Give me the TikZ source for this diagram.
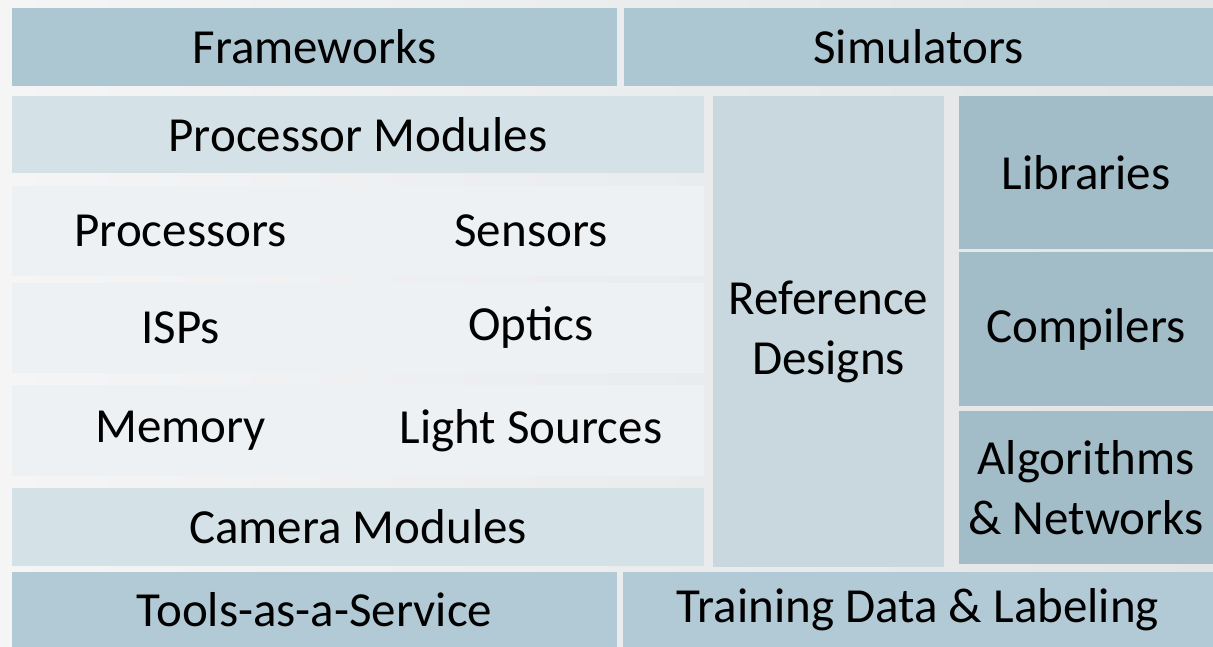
\documentclass[tikz,border=0pt]{standalone}
\usepackage{fontspec}
\setmainfont{Carlito}

\definecolor{bgleft}{HTML}{F5F5F6}
\definecolor{bgright}{HTML}{E2E4E6}
\definecolor{tierdark}{HTML}{ACC6D2}
\definecolor{tierside}{HTML}{A2BCC8}
\definecolor{tiermid}{HTML}{D4E1E7}
\definecolor{tierlight}{HTML}{EDF1F4}
\definecolor{tierref}{HTML}{C9D8DF}

\begin{document}
\begin{tikzpicture}[x=1pt, y=-1pt,
  every node/.style={rectangle, inner sep=0pt, align=center, text=black,
    font=\fontsize{49}{60}\selectfont},
  darkbox/.style={fill=tierdark},
  sidebox/.style={fill=tierside, minimum width=254pt},
  midbox/.style={fill=tiermid, minimum width=692pt},
  lightbox/.style={fill=tierlight, minimum height=90pt},
  refbox/.style={fill=tierref}]

\useasboundingbox (0,0) rectangle (1213,647);
\shade[left color=bgleft, right color=bgright] (0,0) rectangle (1213,647);

% top row
\node[darkbox, minimum width=605pt, minimum height=78pt] (fw) at (314.5,47) {Frameworks};
\node[darkbox, minimum width=589pt, minimum height=78pt] (sim) at (918.5,47) {Simulators};

% hardware stack
\node[midbox, minimum height=77pt] (pm) at (358,134.5) {Processor Modules};
\node[lightbox, minimum width=337pt] (proc) at (180.5,231) {Processors};
\node[lightbox, minimum width=346pt] (sens) at (531,231) {Sensors};
\node[lightbox, minimum width=337pt] (isp) at (180.5,328) {ISPs};
\node[lightbox, minimum width=346pt] (opt) at (531,328) {Optics};
\node[lightbox, minimum width=337pt, minimum height=91pt] (mem) at (180.5,430.5) {Memory};
\node[lightbox, minimum width=346pt, minimum height=91pt] (light) at (531,430.5) {Light Sources};
\node[midbox, minimum height=78pt] (cam) at (358,527) {Camera Modules};

\node[refbox, minimum width=231pt, minimum height=471pt] (ref) at (828.5,331.5) {Reference\\Designs};

% software column
\node[sidebox, minimum height=153pt] (lib) at (1086,172.5) {Libraries};
\node[sidebox, minimum height=154pt] (comp) at (1086,329) {Compilers};
\node[sidebox, minimum height=153pt] (alg) at (1086,487.5) {Algorithms\\\& Networks};

% bottom row
\node[darkbox, fill=tierdark!85!tiermid, minimum width=605pt, minimum height=75pt] (taas) at (314.5,609.5) {Tools-as-a-Service};
\node[darkbox, fill=tierdark!85!tiermid, minimum width=590pt, minimum height=75pt] (data) at (918,609.5) {Training Data \& Labeling};

\end{tikzpicture}
\end{document}
